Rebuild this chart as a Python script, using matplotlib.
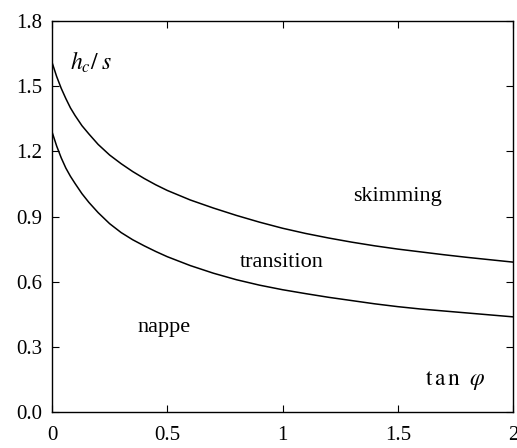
import matplotlib
matplotlib.use("Agg")
import matplotlib.pyplot as plt

# Data
tan_phi = [0.00, 0.02, 0.04, 0.06, 0.08, 0.10, 0.13, 0.16, 0.20, 0.25, 0.30, 0.35,
           0.40, 0.45, 0.50, 0.60, 0.70, 0.80, 0.90, 1.00, 1.10, 1.20, 1.30, 1.40,
           1.50, 1.60, 1.70, 1.80, 1.90, 2.00]
upper = [1.610, 1.545, 1.490, 1.443, 1.400, 1.365, 1.318, 1.280, 1.232, 1.183, 1.143, 1.107,
         1.075, 1.046, 1.020, 0.976, 0.939, 0.905, 0.874, 0.846, 0.822, 0.801, 0.782, 0.765,
         0.750, 0.737, 0.724, 0.712, 0.701, 0.690]
lower = [1.290, 1.225, 1.170, 1.123, 1.085, 1.052, 1.005, 0.965, 0.918, 0.867, 0.826, 0.793,
         0.765, 0.739, 0.715, 0.674, 0.639, 0.609, 0.584, 0.563, 0.545, 0.528, 0.513, 0.498,
         0.485, 0.474, 0.465, 0.456, 0.447, 0.438]

xticks = [0, 0.5, 1, 1.5, 2]
xticklabels = ["0", "0.5", "1", "1.5", "2"]
yticks = [0.0, 0.3, 0.6, 0.9, 1.2, 1.5, 1.8]
yticklabels = ["0.0", "0.3", "0.6", "0.9", "1.2", "1.5", "1.8"]

plt.rcParams["font.family"] = ["Liberation Serif", "DejaVu Serif"]
plt.rcParams["mathtext.fontset"] = "stix"

fig = plt.figure(figsize=(5.17, 4.48), dpi=100)
ax = fig.add_axes([52 / 517, 1 - 412 / 448, (513 - 52) / 517, (412 - 21) / 448])

ax.plot(tan_phi, upper, color="black", lw=1.1)
ax.plot(tan_phi, lower, color="black", lw=1.1)

ax.set_xlim(0, 2)
ax.set_ylim(0, 1.8)
ax.set_xticks(xticks)
ax.set_xticklabels(xticklabels)
ax.set_yticks(yticks)
ax.set_yticklabels(yticklabels)
ax.tick_params(direction="in", top=True, right=True, length=5, width=0.8,
               labelsize=15)
ax.tick_params(axis="x", pad=10)
ax.tick_params(axis="y", pad=7)
for s in ax.spines.values():
    s.set_linewidth(1.0)

ax.text(0.078, 1.61, r"$h_c/\;s$", fontsize=17, ha="left", va="center")
ax.text(1.497, 0.994, "skimming", fontsize=16, ha="center", va="center")
ax.text(0.998, 0.686, "transition", fontsize=16, ha="center", va="center")
ax.text(0.488, 0.387, "nappe", fontsize=16, ha="center", va="center")
ax.text(1.75, 0.147, r"$\mathrm{t\,a\,n}\;\;\varphi$", fontsize=17, ha="center", va="center")

fig.savefig("out.png", dpi=100)
